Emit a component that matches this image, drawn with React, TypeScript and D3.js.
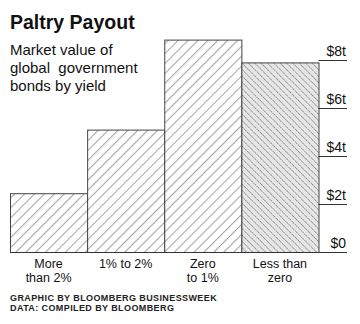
import React from "react";
import * as d3 from "d3";

const categories: string[][] = [["More", "than 2%"], ["1% to 2%"], ["Zero", "to 1%"], ["Less than", "zero"]];
const values: number[] = [2.45, 5.1, 8.85, 7.9];
const ticks: number[] = [0, 2, 4, 6, 8];
const tickLabels: string[] = ["$0", "$2t", "$4t", "$6t", "$8t"];
const subtitle: string[] = ["Market value of", "global  government", "bonds by yield"];
const footer: string[] = ["GRAPHIC BY BLOOMBERG BUSINESSWEEK", "DATA: COMPILED BY BLOOMBERG"];

export default function App() {
  const W = 360, H = 324;
  const x = d3.scaleBand<number>().domain(d3.range(values.length)).range([10, 318.5]).padding(0);
  const y = d3.scaleLinear().domain([0, 8]).range([252.5, 60.5]);
  const font = "'Liberation Sans', Arial, sans-serif";
  return (
    <svg width={W} height={H} style={{ position: "absolute", left: 0, top: 0, background: "#fff" }}>
      <defs>
        <pattern id="hatchA" patternUnits="userSpaceOnUse" width="7" height="7" patternTransform="rotate(45)">
          <rect width="7" height="7" fill="#fff" />
          <line x1="0" y1="0" x2="0" y2="7" stroke="#a8a8a8" strokeWidth="2.2" />
        </pattern>
        <pattern id="hatchB" patternUnits="userSpaceOnUse" width="4.5" height="4.5" patternTransform="rotate(-45)">
          <rect width="4.5" height="4.5" fill="#e6e6e6" />
          <line x1="0" y1="0" x2="0" y2="4.5" stroke="#858585" strokeWidth="1.7" strokeDasharray="1.6 0.9" />
        </pattern>
      </defs>
      <text x={10} y={29} fontFamily={font} fontWeight="bold" fontSize={19.5} fill="#111">Paltry Payout</text>
      {subtitle.map((s, i) => (
        <text key={i} x={10} y={55 + i * 18} fontFamily={font} fontSize={15} fill="#111" style={{ whiteSpace: "pre" }}>{s}</text>
      ))}
      {values.map((v, i) => (
        <rect key={i} x={x(i)! + 0.5} y={y(v)} width={x.bandwidth()} height={y(0) - y(v)}
          fill={i === 3 ? "url(#hatchB)" : "url(#hatchA)"} stroke="#444" strokeWidth={1} />
      ))}
      {ticks.map((t, i) => (
        <g key={i}>
          <line x1={i === 0 ? 10 : x(3)! + x.bandwidth()} x2={347} y1={y(t)} y2={y(t)} stroke="#333" strokeWidth={1} />
          <text x={346} y={y(t) - 5} textAnchor="end" fontFamily={font} fontSize={14} fill="#111">{tickLabels[i]}</text>
        </g>
      ))}
      {categories.map((lines, i) => (
        <text key={i} textAnchor="middle" fontFamily={font} fontSize={12.5} fill="#111">
          {lines.map((l, j) => (
            <tspan key={j} x={x(i)! + x.bandwidth() / 2} y={268 + j * 14}>{l}</tspan>
          ))}
        </text>
      ))}
      {footer.map((f, i) => (
        <text key={i} x={10} y={300.5 + i * 10} fontFamily={font} fontSize={9} fontWeight="bold" fill="#222" letterSpacing={0.4}>{f}</text>
      ))}
    </svg>
  );
}
